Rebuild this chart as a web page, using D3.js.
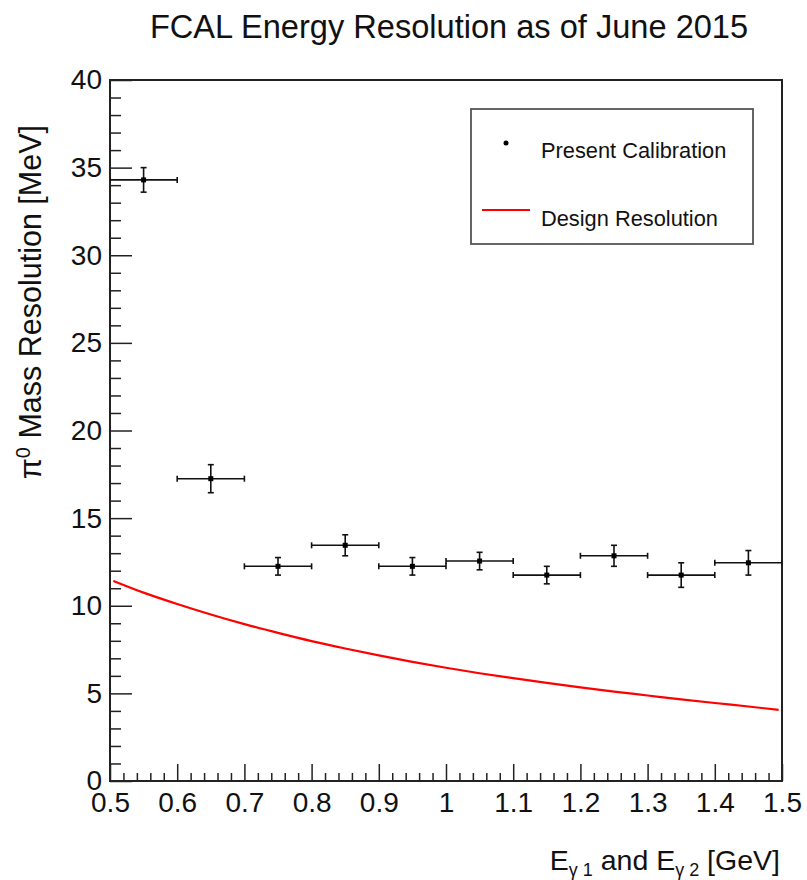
<!DOCTYPE html>
<html>
<head>
<meta charset="utf-8">
<script src="https://cdn.jsdelivr.net/npm/d3@7"></script>
<style>
  html, body { margin: 0; padding: 0; background: #fff; }
  svg { display: block; font-family: "Liberation Sans", Arial, Helvetica, sans-serif; }
</style>
</head>
<body>
<svg id="chart" width="807" height="880"></svg>
<script>
// ---- data ----
const binCenters = [0.55, 0.65, 0.75, 0.85, 0.95, 1.05, 1.15, 1.25, 1.35, 1.45];
const binHalfWidth = [0.05, 0.05, 0.05, 0.05, 0.05, 0.05, 0.05, 0.05, 0.05, 0.05];
const measuredRes = [34.3, 17.25, 12.25, 13.45, 12.25, 12.55, 11.75, 12.85, 11.75, 12.45];
const measuredErr = [0.7, 0.8, 0.5, 0.6, 0.5, 0.5, 0.5, 0.6, 0.7, 0.7];

const designE = [0.505, 0.55, 0.60, 0.65, 0.70, 0.75, 0.80, 0.85, 0.90, 0.95, 1.00, 1.05, 1.10, 1.15, 1.20, 1.25, 1.30, 1.35, 1.40, 1.45, 1.495];
const designRes = [11.42, 10.75, 10.1, 9.5, 8.95, 8.45, 7.98, 7.56, 7.17, 6.8, 6.46, 6.15, 5.87, 5.6, 5.34, 5.1, 4.88, 4.66, 4.45, 4.25, 4.06];

const xMajorTicks = [0.5, 0.6, 0.7, 0.8, 0.9, 1.0, 1.1, 1.2, 1.3, 1.4, 1.5];
const xTickLabels = ["0.5", "0.6", "0.7", "0.8", "0.9", "1", "1.1", "1.2", "1.3", "1.4", "1.5"];
const yMajorTicks = [0, 5, 10, 15, 20, 25, 30, 35, 40];
const yTickLabels = ["0", "5", "10", "15", "20", "25", "30", "35", "40"];

const titleText = "FCAL Energy Resolution as of June 2015";
const legendLabels = ["Present Calibration", "Design Resolution"];

// ---- layout ----
const svg = d3.select("#chart");
const L = 110, R = 782, T = 80, B = 781;

const x = d3.scaleLinear().domain([0.5, 1.5]).range([L, R]);
const y = d3.scaleLinear().domain([0, 40]).range([B, T]);

const xMinor = d3.range(0, 51).map(i => 0.5 + i * 0.02).filter(v => !xMajorTicks.some(m => Math.abs(m - v) < 1e-6));
const yMinor = d3.range(0, 41).filter(v => v % 5 !== 0);

// title
svg.append("text")
  .attr("x", 449).attr("y", 38)
  .attr("text-anchor", "middle")
  .attr("font-size", 32.6)
  .attr("fill", "#111")
  .text(titleText);

// clip
svg.append("defs").append("clipPath").attr("id", "clip")
  .append("rect").attr("x", L).attr("y", T).attr("width", R - L).attr("height", B - T);

// y axis
const yAxis = d3.axisLeft(y).tickValues(yMajorTicks)
  .tickFormat((d, i) => yTickLabels[i]).tickSizeInner(-22).tickSizeOuter(0).tickPadding(8);
const gy = svg.append("g").attr("transform", `translate(${L},0)`).call(yAxis);
gy.select(".domain").remove();
gy.selectAll(".tick line").attr("stroke", "#222").attr("stroke-width", 1.5);
gy.selectAll(".tick text").attr("font-size", 28).attr("fill", "#111")
  .attr("font-family", "Liberation Sans, Arial, sans-serif");

const yAxisMinor = d3.axisLeft(y).tickValues(yMinor).tickFormat("").tickSizeInner(-11).tickSizeOuter(0);
const gym = svg.append("g").attr("transform", `translate(${L},0)`).call(yAxisMinor);
gym.select(".domain").remove();
gym.selectAll(".tick line").attr("stroke", "#222").attr("stroke-width", 1.5);

// x axis
const xAxis = d3.axisBottom(x).tickValues(xMajorTicks)
  .tickFormat((d, i) => xTickLabels[i]).tickSizeInner(-17).tickSizeOuter(0).tickPadding(11);
const gx = svg.append("g").attr("transform", `translate(0,${B})`).call(xAxis);
gx.select(".domain").remove();
gx.selectAll(".tick line").attr("stroke", "#222").attr("stroke-width", 1.5);
gx.selectAll(".tick text").attr("font-size", 28).attr("fill", "#111")
  .attr("font-family", "Liberation Sans, Arial, sans-serif");

const xAxisMinor = d3.axisBottom(x).tickValues(xMinor).tickFormat("").tickSizeInner(-8).tickSizeOuter(0);
const gxm = svg.append("g").attr("transform", `translate(0,${B})`).call(xAxisMinor);
gxm.select(".domain").remove();
gxm.selectAll(".tick line").attr("stroke", "#222").attr("stroke-width", 1.5);

// frame
svg.append("rect")
  .attr("x", L).attr("y", T).attr("width", R - L).attr("height", B - T)
  .attr("fill", "none").attr("stroke", "#222").attr("stroke-width", 2);

// design curve
const line = d3.line().x((d, i) => x(designE[i])).y(d => y(d)).curve(d3.curveMonotoneX);
svg.append("path")
  .datum(designRes)
  .attr("clip-path", "url(#clip)")
  .attr("d", line)
  .attr("fill", "none").attr("stroke", "#ff0000").attr("stroke-width", 2.2);

// data points with error bars
const pts = svg.append("g").attr("clip-path", "url(#clip)");
const cap = 3;
binCenters.forEach((c, i) => {
  const g = pts.append("g");
  const x0 = x(c - binHalfWidth[i]), x1 = x(c + binHalfWidth[i]);
  const yc = y(measuredRes[i]);
  const ylo = y(measuredRes[i] - measuredErr[i]), yhi = y(measuredRes[i] + measuredErr[i]);
  const xc = x(c);
  const st = l => l.attr("stroke", "#111").attr("stroke-width", 1.6);
  st(g.append("line").attr("x1", x0).attr("x2", x1).attr("y1", yc).attr("y2", yc));
  st(g.append("line").attr("x1", x0).attr("x2", x0).attr("y1", yc - cap).attr("y2", yc + cap));
  st(g.append("line").attr("x1", x1).attr("x2", x1).attr("y1", yc - cap).attr("y2", yc + cap));
  st(g.append("line").attr("x1", xc).attr("x2", xc).attr("y1", yhi).attr("y2", ylo));
  st(g.append("line").attr("x1", xc - cap).attr("x2", xc + cap).attr("y1", yhi).attr("y2", yhi));
  st(g.append("line").attr("x1", xc - cap).attr("x2", xc + cap).attr("y1", ylo).attr("y2", ylo));
  g.append("rect").attr("x", xc - 2.5).attr("y", yc - 2.5).attr("width", 5).attr("height", 5).attr("fill", "#000");
});

// legend
const lg = svg.append("g");
lg.append("rect").attr("x", 471).attr("y", 109).attr("width", 282).attr("height", 135)
  .attr("fill", "#fff").attr("stroke", "#555").attr("stroke-width", 1.8);
lg.append("circle").attr("cx", 506).attr("cy", 143).attr("r", 2.5).attr("fill", "#000");
lg.append("text").attr("x", 541).attr("y", 158).attr("font-size", 21.8).attr("fill", "#111").text(legendLabels[0]);
lg.append("line").attr("x1", 482).attr("x2", 530).attr("y1", 210).attr("y2", 210)
  .attr("stroke", "#ff0000").attr("stroke-width", 2.2);
lg.append("text").attr("x", 541).attr("y", 226).attr("font-size", 21.8).attr("fill", "#111").text(legendLabels[1]);

// y axis title
const yt = svg.append("text")
  .attr("transform", "translate(41,125) rotate(-90)")
  .attr("text-anchor", "end")
  .attr("font-size", 30.5)
  .attr("fill", "#111");
yt.append("tspan").text("π");
yt.append("tspan").attr("font-size", 20).attr("dy", -11).text("0");
yt.append("tspan").attr("dy", 11).text(" Mass Resolution [MeV]");

// x axis title
const xt = svg.append("text")
  .attr("x", 780).attr("y", 870)
  .attr("text-anchor", "end")
  .attr("font-size", 28.5)
  .attr("fill", "#111");
xt.append("tspan").text("E");
xt.append("tspan").attr("font-size", 18).attr("dy", 6).text("γ 1");
xt.append("tspan").attr("dy", -6).text(" and E");
xt.append("tspan").attr("font-size", 18).attr("dy", 6).text("γ 2");
xt.append("tspan").attr("dy", -6).text(" [GeV]");
</script>
</body>
</html>
